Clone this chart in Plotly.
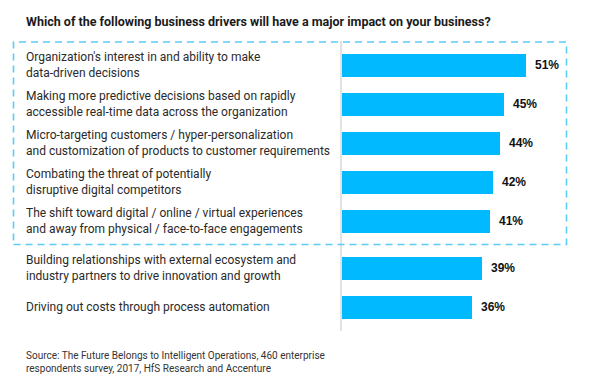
import plotly.graph_objects as go

title = "Which of the following business drivers will have a major impact on your business?"
categories = [
    "Organization's interest in and ability to make<br>data-driven decisions",
    "Making more predictive decisions based on rapidly<br>accessible real-time data across the organization",
    "Micro-targeting customers / hyper-personalization<br>and customization of products to customer requirements",
    "Combating the threat of potentially<br>disruptive digital competitors",
    "The shift toward digital / online / virtual experiences<br>and away from physical / face-to-face engagements",
    "Building relationships with external ecosystem and<br>industry partners to drive innovation and growth",
    "Driving out costs through process automation",
]
values = [51, 45, 44, 42, 41, 39, 36]
highlighted = 5  # first N items are inside the dashed box
source = ("Source: The Future Belongs to Intelligent Operations, 460 enterprise<br>"
          "respondents survey, 2017, HfS Research and Accenture")

W, H = 598, 387
L, R, T, B = 342, 18, 41, 56
pw, ph = W - L - R, H - T - B
px_per_unit_x = 3.6
px_per_unit_y = 39.0

# positions: extra gap after the highlighted group
pos = [i + (0.21 if i >= highlighted else 0) for i in range(len(values))]
first_center = 65.3
ytop = (T - first_center) / px_per_unit_y
ybot = (T + ph - first_center) / px_per_unit_y

def px_x(p):
    return (p - L) / pw

def px_y(p):
    return (T + ph - p) / ph

fig = go.Figure()
fig.add_trace(go.Bar(
    x=values, y=pos, orientation="h",
    marker=dict(color="#00B9FF", line=dict(width=0)),
    width=0.58, hoverinfo="skip",
))

annotations = []
for lab, p in zip(categories, pos):
    annotations.append(dict(
        text=lab, x=px_x(24), xref="paper", y=p, yref="y",
        xanchor="left", yanchor="middle", align="left", showarrow=False,
        font=dict(family="Roboto", size=12, color="#2a2a2a"),
    ))
for v, p in zip(values, pos):
    annotations.append(dict(
        text=f"<b>{v}%</b>", x=v, xref="x", y=p, yref="y",
        xanchor="left", yanchor="middle", xshift=7, showarrow=False,
        font=dict(family="Liberation Sans", size=12, color="#111111"),
    ))
annotations.append(dict(
    text=f"<b>{title}</b>", x=px_x(24), xref="paper", y=px_y(22), yref="paper",
    xanchor="left", yanchor="middle", showarrow=False,
    font=dict(family="Roboto", size=12.5, color="#1a1a1a"),
))
annotations.append(dict(
    text=source, x=px_x(24), xref="paper", y=px_y(362), yref="paper",
    xanchor="left", yanchor="middle", align="left", showarrow=False,
    font=dict(family="Roboto", size=10, color="#333333"),
))

box_bottom_px = first_center + px_per_unit_y * (highlighted - 1) + 23.2
fig.add_shape(
    type="rect", xref="paper", yref="paper",
    x0=px_x(13.5), x1=px_x(566.5), y0=px_y(box_bottom_px), y1=px_y(42),
    line=dict(color="#5CCBF5", width=1.6, dash="7px,5px"),
    fillcolor="rgba(0,0,0,0)", layer="above",
)

fig.update_layout(
    width=W, height=H,
    margin=dict(l=L, r=R, t=T, b=B, pad=0),
    paper_bgcolor="white", plot_bgcolor="white",
    showlegend=False,
    bargap=0,
    annotations=annotations,
    xaxis=dict(range=[0, pw / px_per_unit_x], visible=False, fixedrange=True),
    yaxis=dict(range=[ybot, ytop], showticklabels=False, showgrid=False,
               zeroline=False, showline=True, linecolor="#e2e2e2", linewidth=1.5,
               ticks="", fixedrange=True),
)

fig.write_html("out.html", config={"displayModeBar": False},
               post_script="document.body.style.margin='0';document.body.style.overflow='hidden';")
